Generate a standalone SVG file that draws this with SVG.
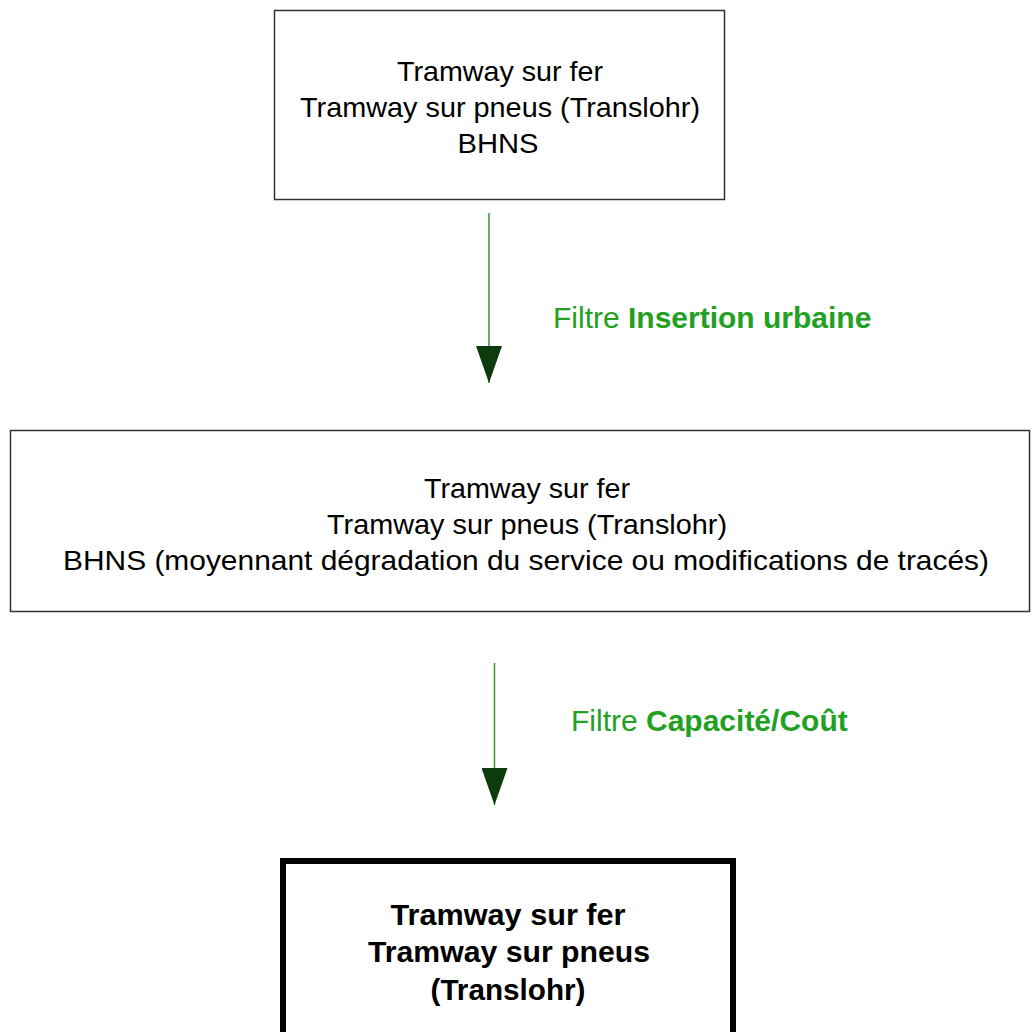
<svg xmlns="http://www.w3.org/2000/svg" width="1033" height="1032" viewBox="0 0 1033 1032">
<style>
.box{fill:#fff;stroke:#333;stroke-width:1.5}
.boxb{fill:#fff;stroke:#000;stroke-width:6}
.t{font-family:"Liberation Sans",Arial,sans-serif;font-size:28.5px;fill:#000;text-anchor:middle}
.tb{font-family:"Liberation Sans",Arial,sans-serif;font-size:30px;font-weight:bold;fill:#000;text-anchor:middle}
.lbl{font-family:"Liberation Sans",Arial,sans-serif;font-size:30px;fill:#22a022}
.lbl tspan.b{font-weight:bold}
.conn{stroke:#2e9e2e;stroke-width:1.5;fill:none}
</style>
<defs>
<marker id="ah" markerUnits="userSpaceOnUse" viewBox="0 -13 37 26" markerWidth="37" markerHeight="26" refX="37" refY="0" orient="auto">
<path d="M0,-13 L37,0 L0,13 Z" fill="#0d3b0d"/>
</marker>
</defs>
<rect width="1033" height="1032" fill="#fff"/>
<g id="node1">
<rect class="box" x="274.5" y="10.5" width="450" height="189"/>
<text class="t" x="500" y="81" textLength="206" lengthAdjust="spacingAndGlyphs">Tramway sur fer</text>
<text class="t" x="500" y="117" textLength="400" lengthAdjust="spacingAndGlyphs">Tramway sur pneus (Translohr)</text>
<text class="t" x="498" y="153" textLength="81" lengthAdjust="spacingAndGlyphs">BHNS</text>
</g>
<g id="node2">
<rect class="box" x="10.5" y="430.5" width="1019" height="181"/>
<text class="t" x="527" y="498" textLength="206" lengthAdjust="spacingAndGlyphs">Tramway sur fer</text>
<text class="t" x="527" y="534" textLength="400" lengthAdjust="spacingAndGlyphs">Tramway sur pneus (Translohr)</text>
<text class="t" x="526" y="570" textLength="926" lengthAdjust="spacingAndGlyphs">BHNS (moyennant dégradation du service ou modifications de tracés)</text>
</g>
<g id="node3">
<rect class="boxb" x="283" y="861" width="450" height="190"/>
<text class="tb" x="508" y="925" textLength="235" lengthAdjust="spacingAndGlyphs">Tramway sur fer</text>
<text class="tb" x="509" y="962" textLength="282" lengthAdjust="spacingAndGlyphs">Tramway sur pneus</text>
<text class="tb" x="508" y="1000" textLength="155" lengthAdjust="spacingAndGlyphs">(Translohr)</text>
</g>
<g id="connectors">
<line class="conn" x1="489" y1="213" x2="489" y2="383" marker-end="url(#ah)"/>
<line class="conn" x1="494.5" y1="663" x2="494.5" y2="805" marker-end="url(#ah)"/>
<text class="lbl" x="553" y="328">Filtre <tspan class="b">Insertion urbaine</tspan></text>
<text class="lbl" x="571" y="731">Filtre <tspan class="b">Capacité/Coût</tspan></text>
</g>
</svg>
